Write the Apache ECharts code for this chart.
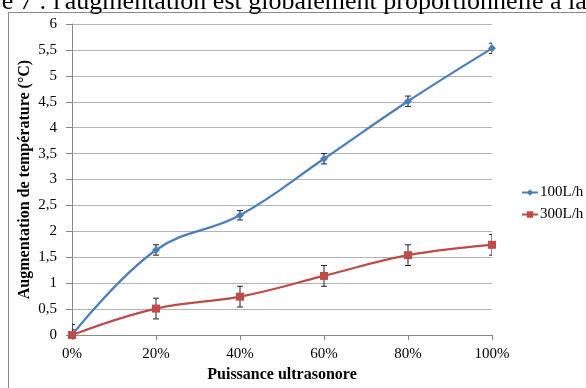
<!DOCTYPE html>
<html>
<head>
<meta charset="utf-8">
<script src="https://cdn.jsdelivr.net/npm/echarts@6/dist/echarts.min.js"></script>
<style>html,body{margin:0;padding:0;background:#fff;}#c{width:586px;height:388px;}</style>
</head>
<body>
<div id="c"></div>
<script>
const powerPct = [0, 20, 40, 60, 80, 100];
const xTicks = ['0%', '20%', '40%', '60%', '80%', '100%'];
const yTicks = ['0', '0,5', '1', '1,5', '2', '2,5', '3', '3,5', '4', '4,5', '5', '5,5', '6'];
const seriesNames = ['100L/h', '300L/h'];
const flow100 = [0, 1.64, 2.31, 3.40, 4.51, 5.53];
const flow300 = [0, 0.51, 0.74, 1.14, 1.54, 1.74];
const err100 = [0.1, 0.1, 0.09, 0.1, 0.1, 0.1];
const err300 = [0.2, 0.2, 0.2, 0.2, 0.2, 0.2];
const topText = "re 7 : l'augmentation est globalement proportionnelle à la";

const FONT = '"Liberation Serif", "Times New Roman", serif';
const chart = echarts.init(document.getElementById('c'), null, {renderer: 'canvas'});

function pairs(xs, ys) { return xs.map((x, i) => [x, ys[i]]); }
function errData(xs, ys, es) { return xs.map((x, i) => [x, ys[i] - es[i], ys[i] + es[i]]); }

function errRender(params, api) {
  const x = api.value(0);
  const lo = api.coord([x, api.value(1)]);
  const hi = api.coord([x, api.value(2)]);
  const cap = 3;
  const style = {stroke: '#222', lineWidth: 1};
  return {
    type: 'group',
    children: [
      {type: 'line', shape: {x1: lo[0], y1: lo[1], x2: hi[0], y2: hi[1]}, style},
      {type: 'line', shape: {x1: lo[0] - cap, y1: lo[1], x2: lo[0] + cap, y2: lo[1]}, style},
      {type: 'line', shape: {x1: hi[0] - cap, y1: hi[1], x2: hi[0] + cap, y2: hi[1]}, style}
    ]
  };
}

chart.setOption({
  animation: false,
  backgroundColor: '#fff',
  grid: {left: 72, right: 94, top: 24, bottom: 52, containLabel: false},
  graphic: [
    {type: 'rect', shape: {x: 8.5, y: 12.5, width: 600, height: 400}, style: {fill: 'none', stroke: '#8a8a8a', lineWidth: 1}, z: -1},
    {type: 'text', x: -7, y: 15, style: {text: topText, font: '26px ' + FONT, fill: '#000', textVerticalAlign: 'bottom'}}
  ],
  legend: {
    orient: 'vertical', left: 516, top: 180, itemWidth: 16, itemHeight: 8, itemGap: 7,
    textStyle: {fontFamily: FONT, fontSize: 15, color: '#000', padding: [0, 0, 0, -3]},
    data: seriesNames
  },
  xAxis: {
    type: 'value', min: 0, max: 100, interval: 20,
    axisLine: {show: true, lineStyle: {color: '#888'}},
    axisTick: {show: true, length: 5, lineStyle: {color: '#888'}},
    splitLine: {show: false},
    axisLabel: {fontFamily: FONT, fontSize: 15, color: '#000', margin: 12,
      formatter: v => xTicks[powerPct.indexOf(v)]},
    name: 'Puissance ultrasonore', nameLocation: 'middle', nameGap: 32, nameMoveOverlap: false,
    nameTextStyle: {fontFamily: FONT, fontSize: 16, fontWeight: 'bold', color: '#000'}
  },
  yAxis: {
    type: 'value', min: 0, max: 6, interval: 0.5,
    axisLine: {show: true, lineStyle: {color: '#888'}},
    axisTick: {show: true, length: 6, lineStyle: {color: '#888'}},
    splitLine: {show: true, lineStyle: {color: '#b4b4b4'}},
    axisLabel: {fontFamily: FONT, fontSize: 15, color: '#000', margin: 15,
      formatter: v => yTicks[Math.round(v * 2)]},
    name: 'Augmentation de température (°C)', nameLocation: 'middle', nameGap: 39, nameMoveOverlap: false,
    nameTextStyle: {fontFamily: FONT, fontSize: 16, fontWeight: 'bold', color: '#000'}
  },
  series: [
    {type: 'custom', name: 'e1', renderItem: errRender, data: errData(powerPct, flow100, err100), clip: true, z: 3, silent: true},
    {type: 'custom', name: 'e2', renderItem: errRender, data: errData(powerPct, flow300, err300), clip: true, z: 3, silent: true},
    {type: 'line', name: seriesNames[0], data: pairs(powerPct, flow100), smooth: 0.4,
      symbol: 'diamond', symbolSize: 8, showAllSymbol: true,
      lineStyle: {color: '#4a7ebb', width: 2.2}, itemStyle: {color: '#4a7ebb'}, z: 4},
    {type: 'line', name: seriesNames[1], data: pairs(powerPct, flow300), smooth: 0.4,
      symbol: 'rect', symbolSize: 8, showAllSymbol: true,
      lineStyle: {color: '#be4b48', width: 2.2}, itemStyle: {color: '#be4b48'}, z: 5}
  ]
});
</script>
</body>
</html>
